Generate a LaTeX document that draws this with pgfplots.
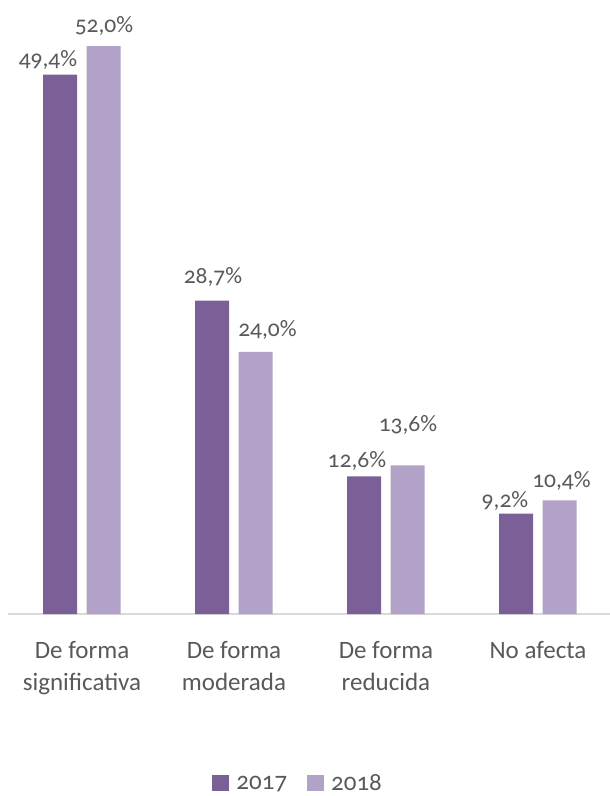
\documentclass[border=0pt]{standalone}
\usepackage{fontspec}
\setmainfont{Carlito}[Numbers=OldStyle]
\usepackage{pgfplots}
\pgfplotsset{compat=1.18}
\definecolor{dk}{HTML}{7B6098}
\definecolor{lt}{HTML}{B3A2C7}
\definecolor{txt}{HTML}{595959}
\definecolor{axl}{HTML}{D9D9D9}
\begin{document}
\begin{tikzpicture}
\useasboundingbox (-8pt,-182pt) rectangle (602pt,614pt);
\begin{axis}[
  scale only axis, width=602pt, height=614pt,
  xmin=-0.4868, xmax=3.474, ymin=0, ymax=56.23,
  ybar, bar width=34pt,
  axis y line=none, axis x line*=bottom,
  x axis line style={axl, line width=1.5pt, -},
  xtick={0,1,2,3}, major tick length=0pt,
  xticklabels={{\rule{0pt}{20pt}De forma\\significativa},{\rule{0pt}{20pt}De forma\\moderada},{\rule{0pt}{20pt}De forma\\reducida},{\rule{0pt}{20pt}No afecta}},
  xticklabel style={anchor=north, inner sep=0pt, yshift=-24pt, align=center, text=txt,
     font=\fontsize{25}{32}\selectfont},
  clip=false,
  legend style={at={(0.482,-0.276)}, anchor=center, draw=none, legend columns=2, fill=none,
     font=\fontsize{25}{28}\selectfont, text=txt, inner sep=0pt,
     /tikz/every odd column/.append style={column sep=5pt},
     /tikz/every even column/.append style={column sep=18pt}},
  legend image code/.code={\fill[#1] (0pt,-8pt) rectangle (17pt,8pt);},
]
\addplot[fill=dk, draw=none, bar shift=-21.75pt] coordinates {(0,49.4) (1,28.7) (2,12.6) (3,9.2)};
\addplot[fill=lt, draw=none, bar shift=21.75pt] coordinates {(0,52.0) (1,24.0) (2,13.6) (3,10.4)};
\legend{2017,2018}
\begin{scope}[every node/.style={anchor=base, text=txt, inner sep=0pt, font=\fontsize{23.5}{26}\selectfont}]
\node at (axis cs:-0.2237,50.18) {49,4\%};
\node at (axis cs:0.1447,53.21) {52,0\%};
\node at (axis cs:0.8618,30.31) {28,7\%};
\node at (axis cs:1.2204,25.37) {24,0\%};
\node at (axis cs:1.809,13.46) {12,6\%};
\node at (axis cs:2.1447,16.67) {13,6\%};
\node at (axis cs:2.783,9.71) {9,2\%};
\node at (axis cs:3.1546,11.63) {10,4\%};
\end{scope}
\end{axis}
\end{tikzpicture}
\end{document}
